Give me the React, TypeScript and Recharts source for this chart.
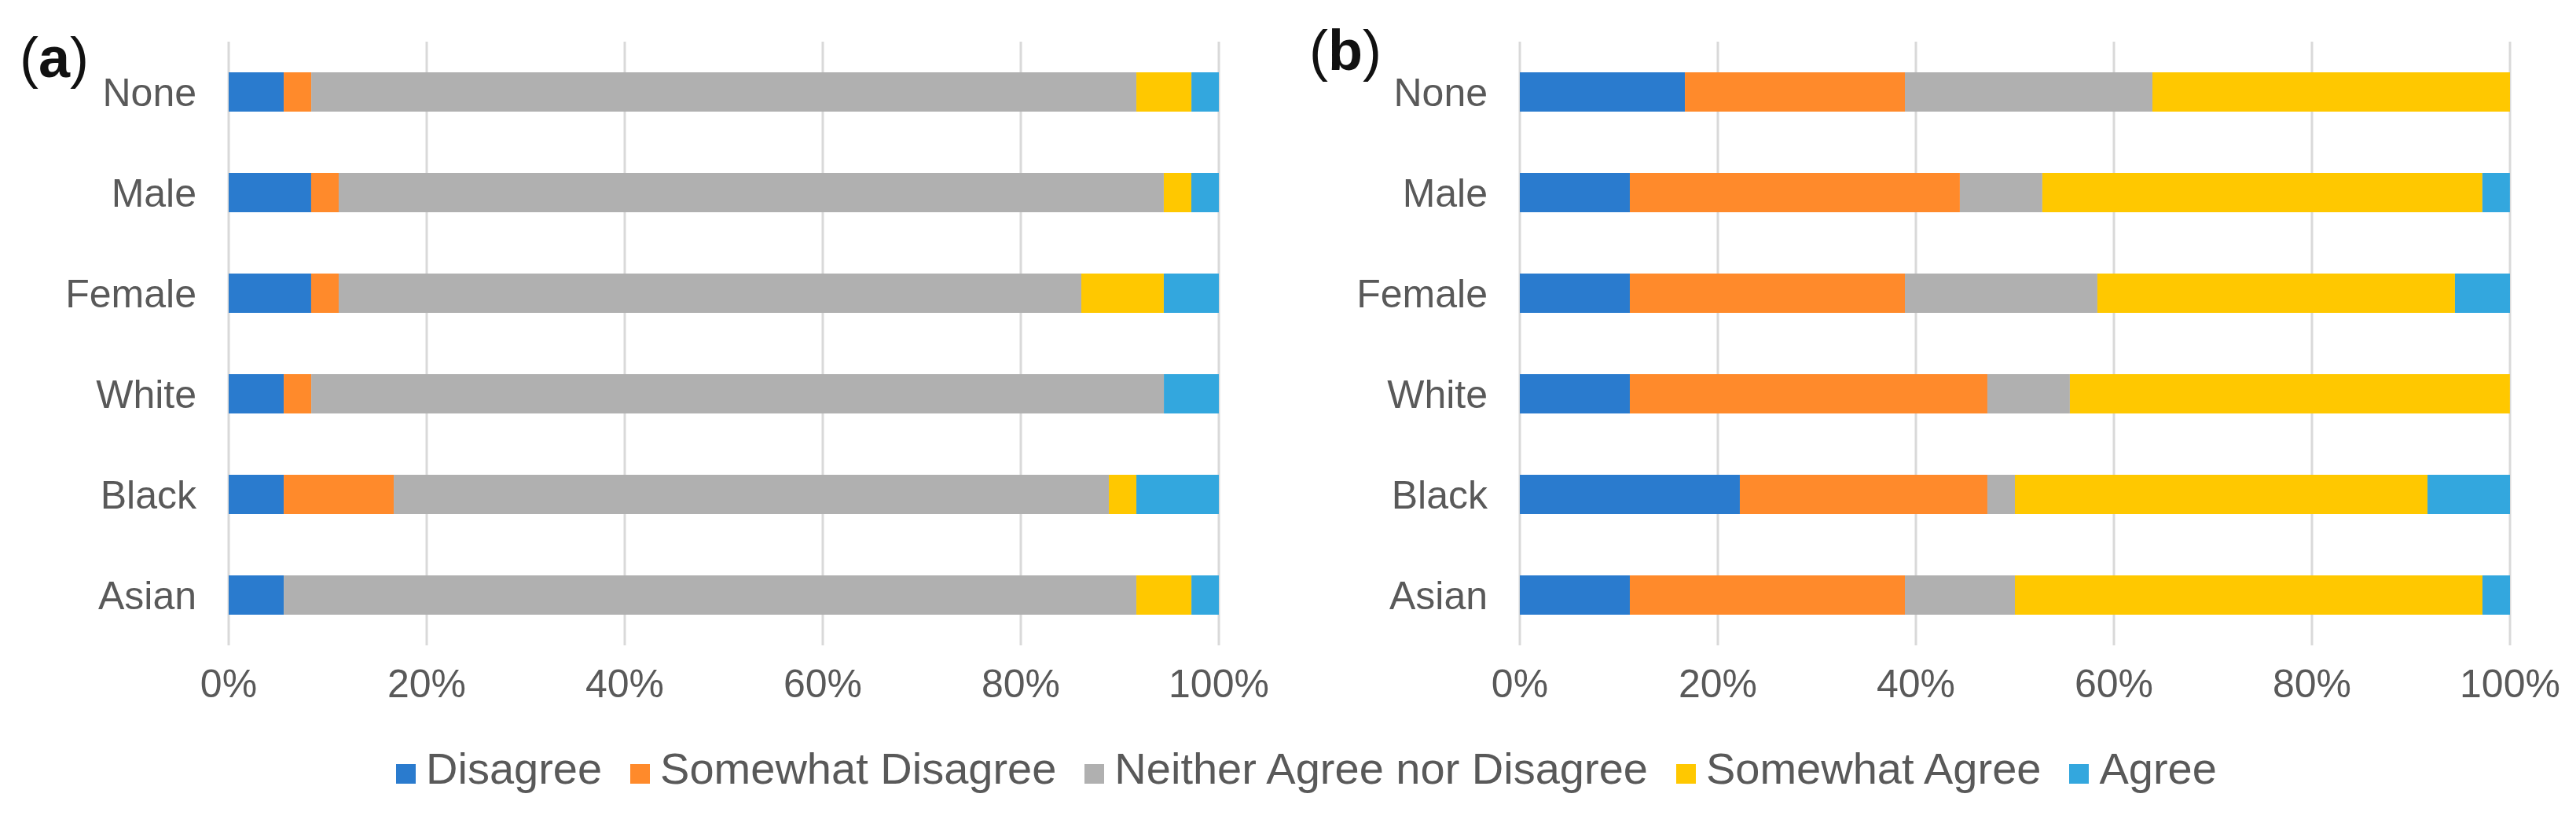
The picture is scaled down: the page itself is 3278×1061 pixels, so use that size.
import React from 'react';
import { BarChart, Bar, XAxis, YAxis, CartesianGrid } from 'recharts';

const categories = ['None', 'Male', 'Female', 'White', 'Black', 'Asian'];
const seriesNames = ['Disagree', 'Somewhat Disagree', 'Neither Agree nor Disagree', 'Somewhat Agree', 'Agree'];
const seriesKeys = ['d', 'sd', 'n', 'sa', 'a'];
const seriesColors = ['#2A7BCE', '#FF8A2B', '#B0B0B0', '#FFC800', '#33A7DE'];
const tickValues = [0, 20, 40, 60, 80, 100];

// Panel (a) – percent of respondents
const aDisagree = [5.56, 8.33, 8.33, 5.56, 5.56, 5.56];
const aSomewhatDisagree = [2.78, 2.78, 2.78, 2.78, 11.11, 0];
const aNeither = [83.33, 83.33, 75.0, 86.11, 72.22, 86.11];
const aSomewhatAgree = [5.56, 2.78, 8.33, 0, 2.78, 5.56];
const aAgree = [2.78, 2.78, 5.56, 5.56, 8.33, 2.78];

// Panel (b) – percent of respondents
const bDisagree = [16.67, 11.11, 11.11, 11.11, 22.22, 11.11];
const bSomewhatDisagree = [22.22, 33.33, 27.78, 36.11, 25.0, 27.78];
const bNeither = [25.0, 8.33, 19.44, 8.33, 2.78, 11.11];
const bSomewhatAgree = [36.11, 44.44, 36.11, 44.44, 41.67, 47.22];
const bAgree = [0, 2.78, 5.56, 0, 8.33, 2.78];

const buildRows = (s: number[][]) =>
  categories.map((group, i) => {
    const row: any = { group };
    seriesKeys.forEach((k, j) => {
      row[k] = s[j][i];
    });
    return row;
  });

const dataA = buildRows([aDisagree, aSomewhatDisagree, aNeither, aSomewhatAgree, aAgree]);
const dataB = buildRows([bDisagree, bSomewhatDisagree, bNeither, bSomewhatAgree, bAgree]);

const FONT = '"Liberation Sans", Arial, Helvetica, sans-serif';
const TEXT = '#595959';

const YTick = (props: any) => {
  const { x, y, payload } = props;
  return (
    <text x={x - 41} y={y} dy="0.355em" textAnchor="end" fill={TEXT} fontSize={50} fontFamily={FONT}>
      {payload.value}
    </text>
  );
};

const XTick = (props: any) => {
  const { x, y, payload } = props;
  return (
    <text x={x} y={y + 66} textAnchor="middle" fill={TEXT} fontSize={50} fontFamily={FONT}>
      {payload.value}%
    </text>
  );
};

const Panel = ({ data, width, yWidth, right }: { data: any[]; width: number; yWidth: number; right: number }) => (
  <BarChart
    width={width}
    height={900}
    data={data}
    layout="vertical"
    margin={{ top: 53, right, bottom: 19, left: 0 }}
  >
    <CartesianGrid horizontal={false} vertical={true} stroke="#D9D9D9" strokeWidth={3} />
    <XAxis
      type="number"
      domain={[0, 100]}
      ticks={tickValues}
      allowDataOverflow
      axisLine={false}
      tickLine={false}
      tickSize={0}
      tickMargin={0}
      height={60}
      tick={<XTick />}
      interval={0}
    />
    <YAxis
      type="category"
      dataKey="group"
      width={yWidth}
      axisLine={false}
      tickLine={false}
      tickSize={0}
      tickMargin={0}
      tick={<YTick />}
      interval={0}
    />
    {seriesKeys.map((k, j) => (
      <Bar key={k} dataKey={k} name={seriesNames[j]} stackId="s" fill={seriesColors[j]} barSize={50} isAnimationActive={false} />
    ))}
  </BarChart>
);

export default function App() {
  return (
    <div style={{ position: 'absolute', left: 0, top: 0, width: 3278, height: 1061, background: '#fff', overflow: 'hidden' }}>
      <div style={{ position: 'absolute', left: 0, top: 0 }}>
        <Panel data={dataA} width={1630} yWidth={291} right={79} />
      </div>
      <div style={{ position: 'absolute', left: 1600, top: 0 }}>
        <Panel data={dataB} width={1668} yWidth={334} right={74} />
      </div>
      <svg style={{ position: 'absolute', left: 0, top: 0 }} width={3278} height={160}>
        <text x={25} y={98} fontSize={72} fontFamily={FONT} fill="#111">
          <tspan>(</tspan>
          <tspan fontWeight="bold">a</tspan>
          <tspan>)</tspan>
        </text>
        <text x={1666} y={89} fontSize={72} fontFamily={FONT} fill="#111">
          <tspan>(</tspan>
          <tspan fontWeight="bold">b</tspan>
          <tspan>)</tspan>
        </text>
      </svg>
      <div
        style={{
          position: 'absolute',
          left: 504,
          top: 945,
          display: 'flex',
          alignItems: 'center',
          gap: 36,
          fontFamily: FONT,
          fontSize: 56,
          color: TEXT,
          whiteSpace: 'nowrap',
        }}
      >
        {seriesNames.map((n, j) => (
          <div key={n} style={{ display: 'flex', alignItems: 'center' }}>
            <div style={{ width: 25, height: 25, background: seriesColors[j], marginRight: 13, position: 'relative', top: 7 }} />
            <span>{n}</span>
          </div>
        ))}
      </div>
    </div>
  );
}
